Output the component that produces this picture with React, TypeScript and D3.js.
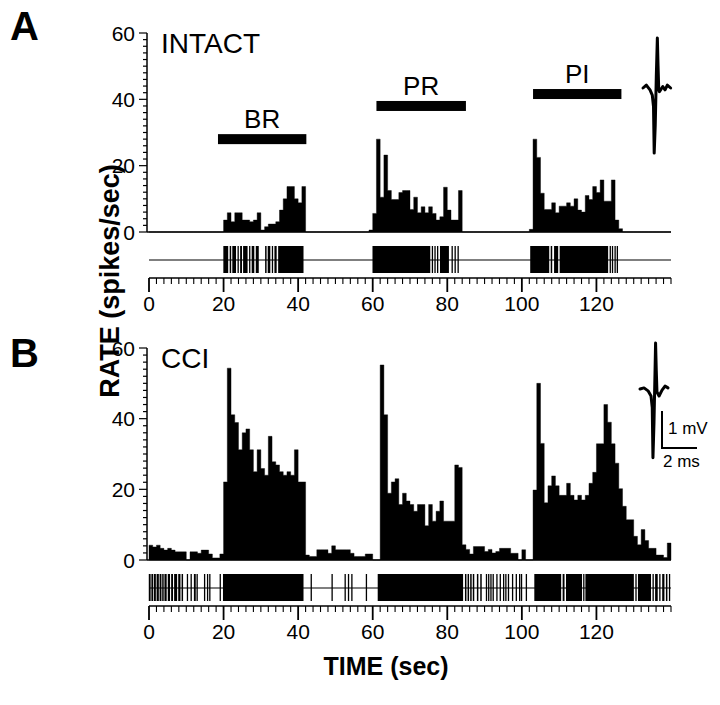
import React from "react";
import * as d3 from "d3";

// ---------- DATA ----------
const timeMajorTicks = [0, 20, 40, 60, 80, 100, 120];
const rateTicks = [0, 20, 40, 60];

// 1-s bins, t = 0..139 s (spikes/sec)
const rateIntact = [
  0, 0, 0, 0, 0, 0, 0, 0, 0, 0, 0, 0, 0, 0, 0, 0, 0, 0, 0, 0,
  3.6, 5.8, 3.1, 5.8, 5.8, 3.6, 3.6, 3.1, 3.6, 5.8, 0.6, 1.6, 2.4, 2.4, 3.1, 6.6, 10, 13.7, 13.7, 10, 8.8, 13.7,
  0, 0, 0, 0, 0, 0, 0, 0, 0, 0, 0, 0, 0, 0, 0, 0, 0,
  0.6, 5.6, 28, 10.5, 23.2, 12.5, 9.8, 9.8, 11.9, 12.5, 12.5, 6.8, 10.5, 5.8, 7.6, 5.8, 7.6, 5.6, 3.6, 4.6, 13.5, 6.6, 3.6, 3.6, 12.5,
  0, 0, 0, 0, 0, 0, 0, 0, 0, 0, 0, 0, 0, 0, 0, 0, 0, 0,
  0.8, 28, 22.5, 11.7, 6.8, 6.8, 8.8, 5.8, 7.8, 7.8, 8.8, 7.8, 10, 6.6, 6, 11, 9.8, 13.7, 11.9, 15.7, 9.3, 9.3, 15.7, 3.6, 1,
  0, 0, 0, 0, 0, 0, 0, 0, 0, 0, 0, 0, 0,
];

const rateCCI = [
  4.2, 3.7, 4.2, 3.3, 2.8, 3.3, 2.8, 2.3, 2.3, 2.3, 0, 2.3, 2.3, 1.9, 2.8, 2.8, 1.7, 0.6, 0.6, 1.7,
  22.1, 54.3, 41.1, 38.9, 31.2, 36, 37.1, 31.2, 25, 31.2, 25.9, 24, 35, 27.8, 26.9, 25, 24, 25, 24, 31.2, 22.1, 22.1,
  1.4, 1, 1, 2.9, 2.9, 2.9, 1.9, 4, 2.9, 2.9, 2.9, 2.9, 1.9, 1, 1, 1, 1.7, 1.7, 0, 0,
  55.2, 41.1, 18.9, 22.1, 23, 15.7, 18.9, 16.7, 15.7, 13.8, 15.7, 15.7, 9.7, 15.7, 11, 13.8, 16.7, 11, 11, 11, 26.9, 26.2,
  4.3, 3, 1.7, 3.8, 3.8, 3.8, 2.4, 3, 2, 2.4, 3.3, 3.3, 3.3, 1.9, 1.9, 0, 2.9, 0, 0,
  19.8, 50, 33, 16.2, 21, 23.8, 21, 18.3, 18.3, 21.7, 18.3, 17, 18.3, 17, 18.3, 21.7, 24.8, 32.9, 32.9, 44, 39, 32.9, 27.4, 20.2, 15.2, 11.4, 11.4, 6.7, 4.3, 8.6, 5.5, 3.3, 3.3, 1.4, 1.4, 0.7, 4.8,
];

// stimulus periods (sec) and the rate level their bar sits at
const stimulusLabels = ["BR", "PR", "PI"];
const stimulusStart = [18.5, 61, 103];
const stimulusEnd = [42.2, 85, 126.7];
const stimulusLevel = [28, 38, 41.6];

// single-trial spike rasters: [start, end] sec (start === end: single spike)
const rasterIntact: [number, number][] = [
  [20.1, 21.4], [21.8, 22.2], [22.5, 23.5], [23.9, 24.2], [24.6, 25.1], [25.4, 26.6], [27.0, 27.3],
  [27.7, 28.4], [28.8, 29.6], [31.3, 31.7], [32.0, 32.7], [33.1, 33.4], [33.8, 34.4], [34.8, 41.6],
  [60.1, 75.6], [76.0, 76.2], [76.7, 76.9], [77.4, 77.6], [78.2, 80.6], [81.3, 81.5], [82.1, 82.4], [82.9, 83.1],
  [102.4, 107.5], [107.9, 108.3], [108.8, 109.9], [110.3, 123.3], [123.7, 123.9], [124.3, 124.5], [125.0, 125.2], [125.6, 125.8],
];

const rasterCCI: [number, number][] = [
  [0.1, 0.6], [0.8, 1.3], [1.5, 2.0], [2.2, 2.8], [3.0, 3.5], [3.7, 4.1], [4.3, 4.9], [5.2, 5.8], [6.1, 6.6],
  [6.9, 7.7], [8.0, 8.6], [8.9, 9.3], [10.3, 10.6], [11.3, 11.6], [12.2, 12.7], [12.9, 13.2], [14.9, 15.1],
  [15.7, 15.9], [16.3, 16.5], [19.1, 19.4], [20.0, 41.6],
  [43.5, 43.5], [49.1, 49.1], [52.6, 52.6], [53.5, 53.5], [54.4, 54.4], [58.3, 58.3],
  [61.5, 84.4],
  [84.9, 85.3], [85.6, 86.0], [86.3, 86.7], [87.0, 87.4], [88.1, 88.5], [89.0, 89.4], [90.5, 90.8],
  [91.1, 91.4], [91.7, 92.0], [92.3, 92.5], [93.3, 93.5], [94.2, 94.4], [95.1, 95.3], [95.7, 95.9], [96.4, 96.6],
  [97.5, 97.5], [98.5, 98.5], [99.4, 99.4], [99.9, 99.9], [101.2, 101.2],
  [103.5, 110.7], [111.1, 111.6], [112.0, 116.3], [116.6, 116.8], [117.2, 130.2], [130.6, 130.8], [131.3, 134.8],
  [135.2, 135.4], [135.9, 136.6], [137.0, 137.3], [137.8, 138.4], [138.8, 139.2], [139.6, 139.9],
];

// spike waveforms (ms, mV)
const waveIntactMs = [0, 0.19, 0.4, 0.53, 0.6, 0.64, 0.7, 0.76, 0.82, 0.86, 0.9, 0.94, 1.13, 1.26, 1.39, 1.58];
const waveIntactMv = [0, 0.08, -0.05, -0.19, -0.5, -1.76, -1.0, 0.3, 1.35, 0.6, -0.05, -0.1, 0.04, -0.05, 0.08, 0];
const waveCCIMs = [0, 0.23, 0.46, 0.63, 0.7, 0.74, 0.8, 0.86, 0.89, 0.93, 0.97, 1.09, 1.26, 1.43, 1.6];
const waveCCIMv = [0, 0.03, -0.05, -0.19, -0.5, -1.86, -0.9, 0.5, 1.24, 0.5, -0.08, -0.19, -0.03, 0.08, 0.03];

const scaleBarMv = 1;
const scaleBarMs = 2;

// ---------- LAYOUT ----------
const FONT = "'Liberation Sans', Arial, Helvetica, sans-serif";
const x = d3.scaleLinear().domain([0, 140]).range([149, 671]);
const AXIS_X = 147;

const panels = [
  {
    letter: "A", letterY: 40, title: "INTACT", titleY: 53,
    y: d3.scaleLinear().domain([0, 60]).range([232, 33]),
    rates: rateIntact, raster: rasterIntact,
    rasterTop: 246, rasterBottom: 273, rasterBase: 260,
    axisY: 278, labelY: 311,
  },
  {
    letter: "B", letterY: 367, title: "CCI", titleY: 368,
    y: d3.scaleLinear().domain([0, 60]).range([560, 348]),
    rates: rateCCI, raster: rasterCCI,
    rasterTop: 574, rasterBottom: 601, rasterBase: 588,
    axisY: 606, labelY: 639,
  },
];

const msScale = d3.scaleLinear().domain([0, 1]).range([0, 17.5]);
const mvScale = d3.scaleLinear().domain([0, 1]).range([0, -37]);

function Waveform({ ms, mv, ox, oy }: { ms: number[]; mv: number[]; ox: number; oy: number }) {
  const line = d3
    .line<number>()
    .x((_, i) => ox + msScale(ms[i]))
    .y((d) => oy + mvScale(d));
  return (
    <path d={line(mv) || ""} fill="none" stroke="#000" strokeWidth={3} strokeLinejoin="round" strokeLinecap="round" />
  );
}

function Panel({ p }: { p: (typeof panels)[number] }) {
  const y = p.y;
  const data = [...p.rates, p.rates[p.rates.length - 1]];
  const area = d3
    .area<number>()
    .x((_, i) => x(i))
    .y0(y(0))
    .y1((d) => y(d))
    .curve(d3.curveStepAfter);
  const minor = d3.range(0, 61, 2);
  const xMinor = d3.range(0, 141, 2);
  return (
    <g>
      <text x={10} y={p.letterY} fontFamily={FONT} fontWeight="bold" fontSize={40}>{p.letter}</text>
      {/* y axis */}
      <line x1={AXIS_X} x2={AXIS_X} y1={y(60)} y2={y(0)} stroke="#000" strokeWidth={1.5} />
      {minor.map((v) => (
        <line key={v} x1={v % 20 === 0 ? AXIS_X - 8 : AXIS_X - 4} x2={AXIS_X} y1={y(v)} y2={y(v)} stroke="#000" strokeWidth={1.2} />
      ))}
      {rateTicks.map((v) => (
        <text key={v} x={AXIS_X - 12} y={y(v)} dy="0.36em" textAnchor="end" fontFamily={FONT} fontSize={21}>{v}</text>
      ))}
      <text x={161} y={p.titleY} fontFamily={FONT} fontSize={28}>{p.title}</text>
      {/* histogram */}
      <path d={area(data) || ""} fill="#000" stroke="#000" strokeWidth={0.4} />
      <line x1={AXIS_X} x2={x(140)} y1={y(0)} y2={y(0)} stroke="#000" strokeWidth={1.5} />
      {/* raster */}
      <line x1={x(0)} x2={x(140)} y1={p.rasterBase} y2={p.rasterBase} stroke="#000" strokeWidth={1.2} />
      {p.raster.map(([s, e], i) => (
        <rect key={i} x={x(s) - 0.6} width={Math.max(1.3, x(e) - x(s))} y={p.rasterTop} height={p.rasterBottom - p.rasterTop} fill="#000" />
      ))}
      {/* x axis */}
      <line x1={x(0)} x2={x(140)} y1={p.axisY} y2={p.axisY} stroke="#000" strokeWidth={1.5} />
      {xMinor.map((t) => (
        <line key={t} x1={x(t)} x2={x(t)} y1={p.axisY} y2={p.axisY + (t % 20 === 0 && t <= 120 ? 14 : 6)} stroke="#000" strokeWidth={t % 20 === 0 && t <= 120 ? 1.8 : 1.1} />
      ))}
      {timeMajorTicks.map((t) => (
        <text key={t} x={x(t)} y={p.labelY} textAnchor="middle" fontFamily={FONT} fontSize={21}>{t}</text>
      ))}
    </g>
  );
}

export default function App() {
  const yA = panels[0].y;
  return (
    <svg width={720} height={705} viewBox="0 0 720 705" style={{ position: "absolute", left: 0, top: 0, background: "#fff" }}>
      <rect width={720} height={705} fill="#fff" />
      {panels.map((p) => (
        <Panel key={p.letter} p={p} />
      ))}
      {/* stimulus bars */}
      {stimulusLabels.map((lab, i) => (
        <g key={lab}>
          <rect x={x(stimulusStart[i])} width={x(stimulusEnd[i]) - x(stimulusStart[i])} y={yA(stimulusLevel[i]) - 5} height={10} fill="#000" />
          <text x={(x(stimulusStart[i]) + x(stimulusEnd[i])) / 2} y={yA(stimulusLevel[i]) - 11} textAnchor="middle" fontFamily={FONT} fontSize={26}>{lab}</text>
        </g>
      ))}
      {/* waveforms */}
      <Waveform ms={waveIntactMs} mv={waveIntactMv} ox={643} oy={88} />
      <Waveform ms={waveCCIMs} mv={waveCCIMv} ox={640} oy={389} />
      {/* scale bar */}
      <path
        d={`M${662},${448 + mvScale(scaleBarMv)}L${662},${448}L${662 + msScale(scaleBarMs)},${448}`}
        fill="none" stroke="#000" strokeWidth={2}
      />
      <text x={668} y={434} fontFamily={FONT} fontSize={17}>1 mV</text>
      <text x={663} y={467} fontFamily={FONT} fontSize={17}>2 ms</text>
      {/* axis titles */}
      <text transform="translate(119,281) rotate(-90)" textAnchor="middle" fontFamily={FONT} fontWeight="bold" fontSize={27}>RATE (spikes/sec)</text>
      <text x={386} y={675} textAnchor="middle" fontFamily={FONT} fontWeight="bold" fontSize={25}>TIME (sec)</text>
    </svg>
  );
}
